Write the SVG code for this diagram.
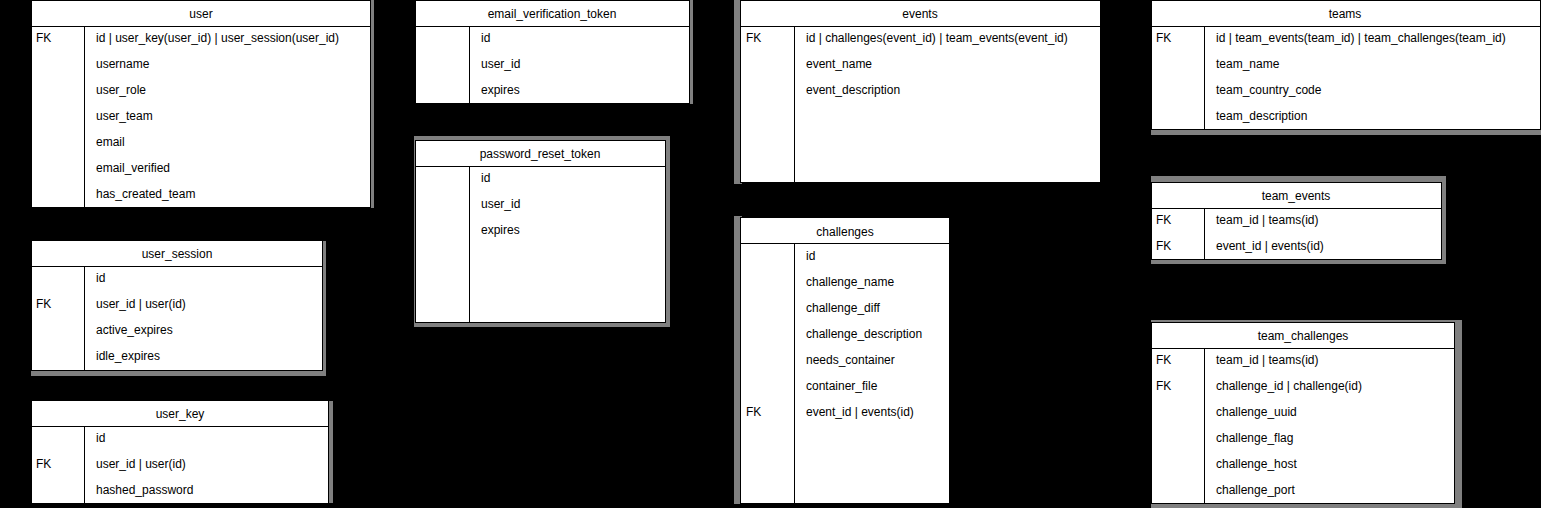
<svg xmlns="http://www.w3.org/2000/svg" width="1541" height="508" viewBox="0 0 1541 508">
<style>
.bg{fill:#000}
.sh{fill:#808080}
.tb{fill:#fff;stroke:#000;stroke-width:1}
.ln{stroke:#000;stroke-width:1;fill:none}
text{font-family:"Liberation Sans",Arial,Helvetica,sans-serif;font-size:12px;fill:#000}
.h{text-anchor:middle}
</style>
<rect class="bg" x="0" y="0" width="1541" height="508"/>
<g id="connectors"></g>

<g id="user">
<rect class="sh" x="370" y="0" width="4" height="208"/>
<rect class="tb" x="31.5" y="0.5" width="339" height="207"/>
<line class="ln" x1="31" y1="26.5" x2="371" y2="26.5"/>
<line class="ln" x1="84.5" y1="27" x2="84.5" y2="208"/>
<text class="h" x="201" y="18">user</text>
<text x="36" y="42">FK</text>
<text x="96" y="42">id | user_key(user_id) | user_session(user_id)</text>
<text x="96" y="68">username</text>
<text x="96" y="94">user_role</text>
<text x="96" y="120">user_team</text>
<text x="96" y="146">email</text>
<text x="96" y="172">email_verified</text>
<text x="96" y="198">has_created_team</text>
</g>

<g id="user_session">
<rect class="sh" x="31" y="241" width="295" height="135"/>
<rect class="tb" x="31.5" y="240.5" width="291" height="130"/>
<line class="ln" x1="31" y1="266.5" x2="323" y2="266.5"/>
<line class="ln" x1="84.5" y1="267" x2="84.5" y2="371"/>
<text class="h" x="177" y="258">user_session</text>
<text x="96" y="282">id</text>
<text x="36" y="308">FK</text>
<text x="96" y="308">user_id | user(id)</text>
<text x="96" y="334">active_expires</text>
<text x="96" y="360">idle_expires</text>
</g>

<g id="user_key">
<rect class="sh" x="328" y="401" width="5" height="102"/>
<rect class="tb" x="31.5" y="400.5" width="297" height="103"/>
<line class="ln" x1="31" y1="426.5" x2="329" y2="426.5"/>
<line class="ln" x1="84.5" y1="427" x2="84.5" y2="504"/>
<text class="h" x="180" y="418">user_key</text>
<text x="96" y="442">id</text>
<text x="36" y="468">FK</text>
<text x="96" y="468">user_id | user(id)</text>
<text x="96" y="494">hashed_password</text>
</g>

<g id="email_verification_token">
<rect class="sh" x="689" y="0" width="4" height="104"/>
<rect class="tb" x="415.5" y="0.5" width="274" height="103"/>
<line class="ln" x1="415" y1="26.5" x2="690" y2="26.5"/>
<line class="ln" x1="469.5" y1="27" x2="469.5" y2="104"/>
<text class="h" x="552" y="18">email_verification_token</text>
<text x="481" y="42">id</text>
<text x="481" y="68">user_id</text>
<text x="481" y="94">expires</text>
</g>

<g id="password_reset_token">
<rect class="sh" x="414" y="136" width="256" height="191"/>
<rect class="tb" x="415.5" y="140.5" width="250" height="182"/>
<line class="ln" x1="415" y1="166.5" x2="666" y2="166.5"/>
<line class="ln" x1="469.5" y1="167" x2="469.5" y2="323"/>
<text class="h" x="540" y="158">password_reset_token</text>
<text x="481" y="182">id</text>
<text x="481" y="208">user_id</text>
<text x="481" y="234">expires</text>
</g>

<g id="events">
<rect class="sh" x="734" y="0" width="8" height="184"/>
<rect class="tb" x="740.5" y="0.5" width="360" height="182"/>
<line class="ln" x1="740" y1="26.5" x2="1101" y2="26.5"/>
<line class="ln" x1="794.5" y1="27" x2="794.5" y2="183"/>
<text class="h" x="920" y="18">events</text>
<text x="746" y="42">FK</text>
<text x="806" y="42">id | challenges(event_id) | team_events(event_id)</text>
<text x="806" y="68">event_name</text>
<text x="806" y="94">event_description</text>
</g>

<g id="challenges">
<rect class="sh" x="734" y="216" width="8" height="288"/>
<rect class="tb" x="740.5" y="217.5" width="209" height="286"/>
<line class="ln" x1="740" y1="243.5" x2="950" y2="243.5"/>
<line class="ln" x1="794.5" y1="244" x2="794.5" y2="504"/>
<text class="h" x="845" y="236">challenges</text>
<text x="806" y="260">id</text>
<text x="806" y="286">challenge_name</text>
<text x="806" y="312">challenge_diff</text>
<text x="806" y="338">challenge_description</text>
<text x="806" y="364">needs_container</text>
<text x="806" y="390">container_file</text>
<text x="746" y="416">FK</text>
<text x="806" y="416">event_id | events(id)</text>
</g>

<g id="teams">
<rect class="sh" x="1151" y="129" width="390" height="6"/>
<rect class="tb" x="1151.5" y="0.5" width="389" height="129"/>
<line class="ln" x1="1151" y1="26.5" x2="1541" y2="26.5"/>
<line class="ln" x1="1204.5" y1="27" x2="1204.5" y2="130"/>
<text class="h" x="1345" y="18">teams</text>
<text x="1156" y="42">FK</text>
<text x="1216" y="42">id | team_events(team_id) | team_challenges(team_id)</text>
<text x="1216" y="68">team_name</text>
<text x="1216" y="94">team_country_code</text>
<text x="1216" y="120">team_description</text>
</g>

<g id="team_events">
<rect class="sh" x="1151" y="176" width="295" height="88"/>
<rect class="tb" x="1151.5" y="182.5" width="290" height="77"/>
<line class="ln" x1="1151" y1="208.5" x2="1442" y2="208.5"/>
<line class="ln" x1="1204.5" y1="209" x2="1204.5" y2="260"/>
<text class="h" x="1296" y="200">team_events</text>
<text x="1156" y="224">FK</text>
<text x="1216" y="224">team_id | teams(id)</text>
<text x="1156" y="250">FK</text>
<text x="1216" y="250">event_id | events(id)</text>
</g>

<g id="team_challenges">
<rect class="sh" x="1151" y="320" width="311" height="188"/>
<rect class="tb" x="1151.5" y="322.5" width="303" height="181"/>
<line class="ln" x1="1151" y1="348.5" x2="1455" y2="348.5"/>
<line class="ln" x1="1204.5" y1="349" x2="1204.5" y2="504"/>
<text class="h" x="1303" y="340">team_challenges</text>
<text x="1156" y="364">FK</text>
<text x="1216" y="364">team_id | teams(id)</text>
<text x="1156" y="390">FK</text>
<text x="1216" y="390">challenge_id | challenge(id)</text>
<text x="1216" y="416">challenge_uuid</text>
<text x="1216" y="442">challenge_flag</text>
<text x="1216" y="468">challenge_host</text>
<text x="1216" y="494">challenge_port</text>
</g>
</svg>
